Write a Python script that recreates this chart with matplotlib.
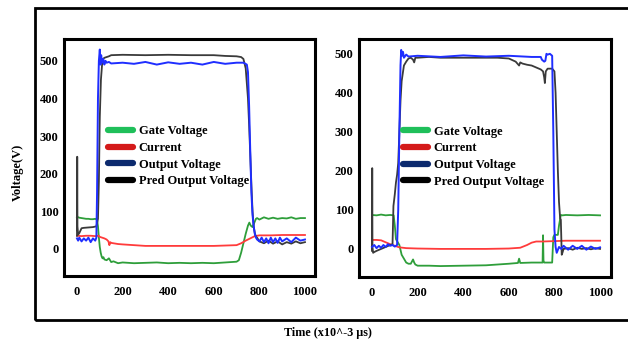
import matplotlib
matplotlib.use('Agg')
import matplotlib.pyplot as plt
from matplotlib.lines import Line2D
from matplotlib.patches import Rectangle

plt.rcParams['font.family'] = ['Liberation Serif', 'DejaVu Serif']
plt.rcParams['font.weight'] = 'bold'

# ---- left panel ----
l_gate_t = [0, 2, 10, 20, 30, 40, 50, 60, 70, 80, 88, 92, 96, 100, 104, 108, 112, 116, 120, 130, 140, 150,
            160, 180, 200, 250, 300, 350, 400, 450, 500, 550, 600, 650, 700, 710, 720, 730, 740, 750, 756,
            762, 770, 778, 785, 790, 800, 820, 840, 860, 880, 900, 920, 940, 960, 980, 1000]
l_gate_v = [84, 85, 83, 82, 81, 80, 80, 79, 79, 80, 78, 60, 30, 5, -10, -20, -25, -22, -28, -30, -25, -35,
            -33, -38, -36, -38, -37, -36, -38, -37, -38, -37, -38, -36, -34, -30, -10, 15, 40, 62, 70,
            62, 58, 70, 80, 82, 78, 84, 80, 83, 80, 82, 81, 84, 80, 82, 82]

l_cur_t = [0, 20, 40, 60, 80, 95, 100, 110, 120, 130, 138, 142, 146, 150, 160, 180, 200, 250, 300, 400,
           500, 600, 650, 700, 720, 740, 760, 780, 800, 850, 900, 950, 1000]
l_cur_v = [35, 34, 35, 35, 34, 35, 32, 30, 28, 25, 20, 10, 18, 16, 15, 13, 12, 10, 8, 8,
           8, 8, 9, 10, 15, 22, 28, 34, 36, 36, 37, 37, 37]

l_out_t = [0, 5, 10, 20, 30, 40, 50, 60, 70, 80, 85, 88, 92, 96, 100, 103, 106, 110, 115, 120, 125, 130,
           140, 150, 200, 250, 300, 350, 400, 450, 500, 550, 600, 650, 700, 730, 745, 750, 755, 760, 765,
           770, 775, 780, 785, 790, 800, 810, 820, 830, 840, 850, 860, 870, 880, 890, 900, 920, 940, 960,
           980, 1000]
l_out_v = [28, 22, 30, 20, 28, 22, 30, 18, 28, 22, 30, 150, 400, 500, 530, 490, 515, 495, 505, 490, 500, 495,
           497, 493, 495, 492, 497, 490, 496, 492, 495, 490, 497, 492, 495, 495, 490, 470, 380, 260, 150,
           90, 60, 40, 30, 25, 20, 30, 18, 28, 15, 30, 18, 28, 16, 30, 20, 28, 18, 30,
           22, 25]

l_pred_t = [0, 1, 2, 5, 10, 20, 30, 50, 70, 85, 92, 96, 100, 105, 110, 115, 120, 130, 140, 150, 200, 300,
            400, 500, 600, 650, 700, 720, 730, 740, 750, 755, 760, 765, 770, 775, 780, 785, 790, 800, 820,
            840, 860, 880, 900, 920, 940, 960, 980, 1000]
l_pred_v = [35, 245, 60, 38, 42, 55, 56, 57, 58, 60, 80, 180, 350, 450, 490, 505, 508, 510, 512, 515, 516, 515,
            516, 515, 515, 513, 512, 510, 505, 480, 400, 330, 250, 170, 100, 60, 42, 32, 30, 20, 15,
            22, 14, 20, 12, 18, 14, 20, 15, 18]

# ---- right panel ----
r_gate_t = [0, 20, 40, 60, 80, 95, 100, 105, 110, 120, 130, 140, 150, 160, 170, 180, 185, 190, 200, 250,
            300, 400, 500, 600, 640, 645, 650, 700, 748, 750, 752, 755, 760, 790, 795, 800, 810, 815, 820,
            828, 835, 850, 900, 950, 1000]
r_gate_v = [87, 86, 88, 86, 87, 86, 60, 25, 20, 10, -15, -25, -35, -38, -38, -27, -35, -40, -43, -43,
            -44, -43, -42, -38, -36, -25, -36, -35, -35, 35, -30, -35, -35, -35, 30, 36, 36, 36, 60,
            87, 86, 87, 86, 87, 86]

r_cur_t = [0, 20, 40, 60, 80, 100, 120, 150, 200, 300, 400, 500, 600, 650, 680, 700, 720, 750, 800, 850,
           900, 1000]
r_cur_v = [23, 23, 22, 17, 12, 8, 4, 2, 1, 0, 0, 0, 1, 3, 10, 16, 19, 19, 20, 21,
           21, 21]

r_out_t = [0, 10, 20, 30, 40, 50, 60, 70, 80, 90, 100, 110, 115, 120, 125, 128, 132, 136, 140, 150, 160,
           200, 300, 400, 500, 600, 700, 740, 745, 755, 760, 765, 770, 780, 790, 795, 800, 805, 810, 820,
           830, 840, 860, 880, 900, 920, 940, 960, 980, 1000]
r_out_v = [5, 10, 2, 8, 3, 10, 5, 12, 8, 10, 6, 10, 100, 300, 470, 510, 495, 505, 490, 498, 493,
           495, 492, 496, 493, 495, 492, 492, 485, 480, 482, 500, 498, 500, 495, 300, 50, 5, -10, 5,
           0, 8, -2, 8, 0, 8, -2, 6, 0, 4]

r_pred_t = [0, 1, 2, 5, 10, 20, 40, 60, 80, 90, 92, 94, 100, 105, 110, 115, 120, 125, 130, 140, 150, 160,
            170, 180, 185, 190, 200, 250, 300, 400, 500, 550, 600, 630, 645, 650, 660, 680, 700, 720, 740,
            750, 755, 758, 762, 770, 790, 800, 805, 810, 815, 820, 825, 828, 832, 835, 840, 860, 880, 900,
            920, 940, 960, 980, 1000]
r_pred_v = [-5, 207, 5, -10, -8, -5, 0, 5, 10, 12, 60, 110, 140, 170, 190, 220, 300, 380, 430, 470, 480, 488,
            490, 485, 478, 490, 490, 492, 490, 490, 490, 490, 488, 480, 470, 478, 475, 472, 470, 465, 460,
            455, 440, 425, 455, 462, 462, 455, 400, 300, 200, 120, 78, 75, -15, -10, 0, 2, -2, 3,
            0, 2, -1, 2, 0]

x_ticks = [0, 200, 400, 600, 800, 1000]
y_ticks = [0, 100, 200, 300, 400, 500]
legend_labels = ['Gate Voltage', 'Current', 'Output Voltage', 'Pred Output Voltage']
legend_colors = ['#1fbf5a', '#d41a1a', '#0c2a6e', '#000000']

fig = plt.figure(figsize=(6.28, 3.41), dpi=100)

# outer frame
fig.patches.append(Rectangle((35 / 628, 21 / 341), 1.0, 312 / 341, transform=fig.transFigure,
                             fill=False, lw=2, edgecolor='black', clip_on=False))

ax1 = fig.add_axes([64 / 628, 65 / 341, 251 / 628, 237 / 341])
ax2 = fig.add_axes([359 / 628, 64 / 341, 252 / 628, 238 / 341])

panels = [
    (ax1, (l_gate_t, l_gate_v), (l_cur_t, l_cur_v), (l_out_t, l_out_v), (l_pred_t, l_pred_v), (-57, 1044), (-72, 558)),
    (ax2, (r_gate_t, r_gate_v), (r_cur_t, r_cur_v), (r_out_t, r_out_v), (r_pred_t, r_pred_v), (-57, 1048), (-72, 538)),
]

for ax, gate, cur, out, pred, xl, yl in panels:
    ax.plot(*gate, color='#2e9e3a', lw=1.3)
    ax.plot(*cur, color='#ff3b3b', lw=1.3)
    ax.plot(*pred, color='#3a3a3a', lw=1.3)
    ax.plot(*out, color='#1f2eff', lw=1.4)
    ax.set_xlim(*xl)
    ax.set_ylim(*yl)
    ax.set_xticks(x_ticks)
    ax.set_yticks(y_ticks)
    ax.tick_params(labelsize=9, length=0)
    ax.tick_params(axis='x', pad=7)
    ax.tick_params(axis='y', pad=4)
    for lab in ax.get_xticklabels() + ax.get_yticklabels():
        lab.set_fontweight('bold')
    for sp in ax.spines.values():
        sp.set_linewidth(2.2)
    handles = [Line2D([], [], color=c, lw=4.5, solid_capstyle='round') for c in legend_colors]
    ax.legend(handles, legend_labels, loc='upper left', bbox_to_anchor=(0.15, 0.662), frameon=False,
              prop={'family': 'Liberation Serif', 'weight': 'bold', 'size': 9},
              handlelength=2.0, handletextpad=0.45, labelspacing=0.37, borderpad=0)

fig.text(18 / 628, 1 - 172 / 341, 'Voltage(V)', rotation=90, ha='center', va='center',
         fontsize=9, fontweight='bold')
fig.text(328 / 628, 1 - 333 / 341, 'Time (x10^-3 \u00b5s)', ha='center', va='center',
         fontsize=8.7, fontweight='bold')

fig.savefig('out.png', dpi=100)
